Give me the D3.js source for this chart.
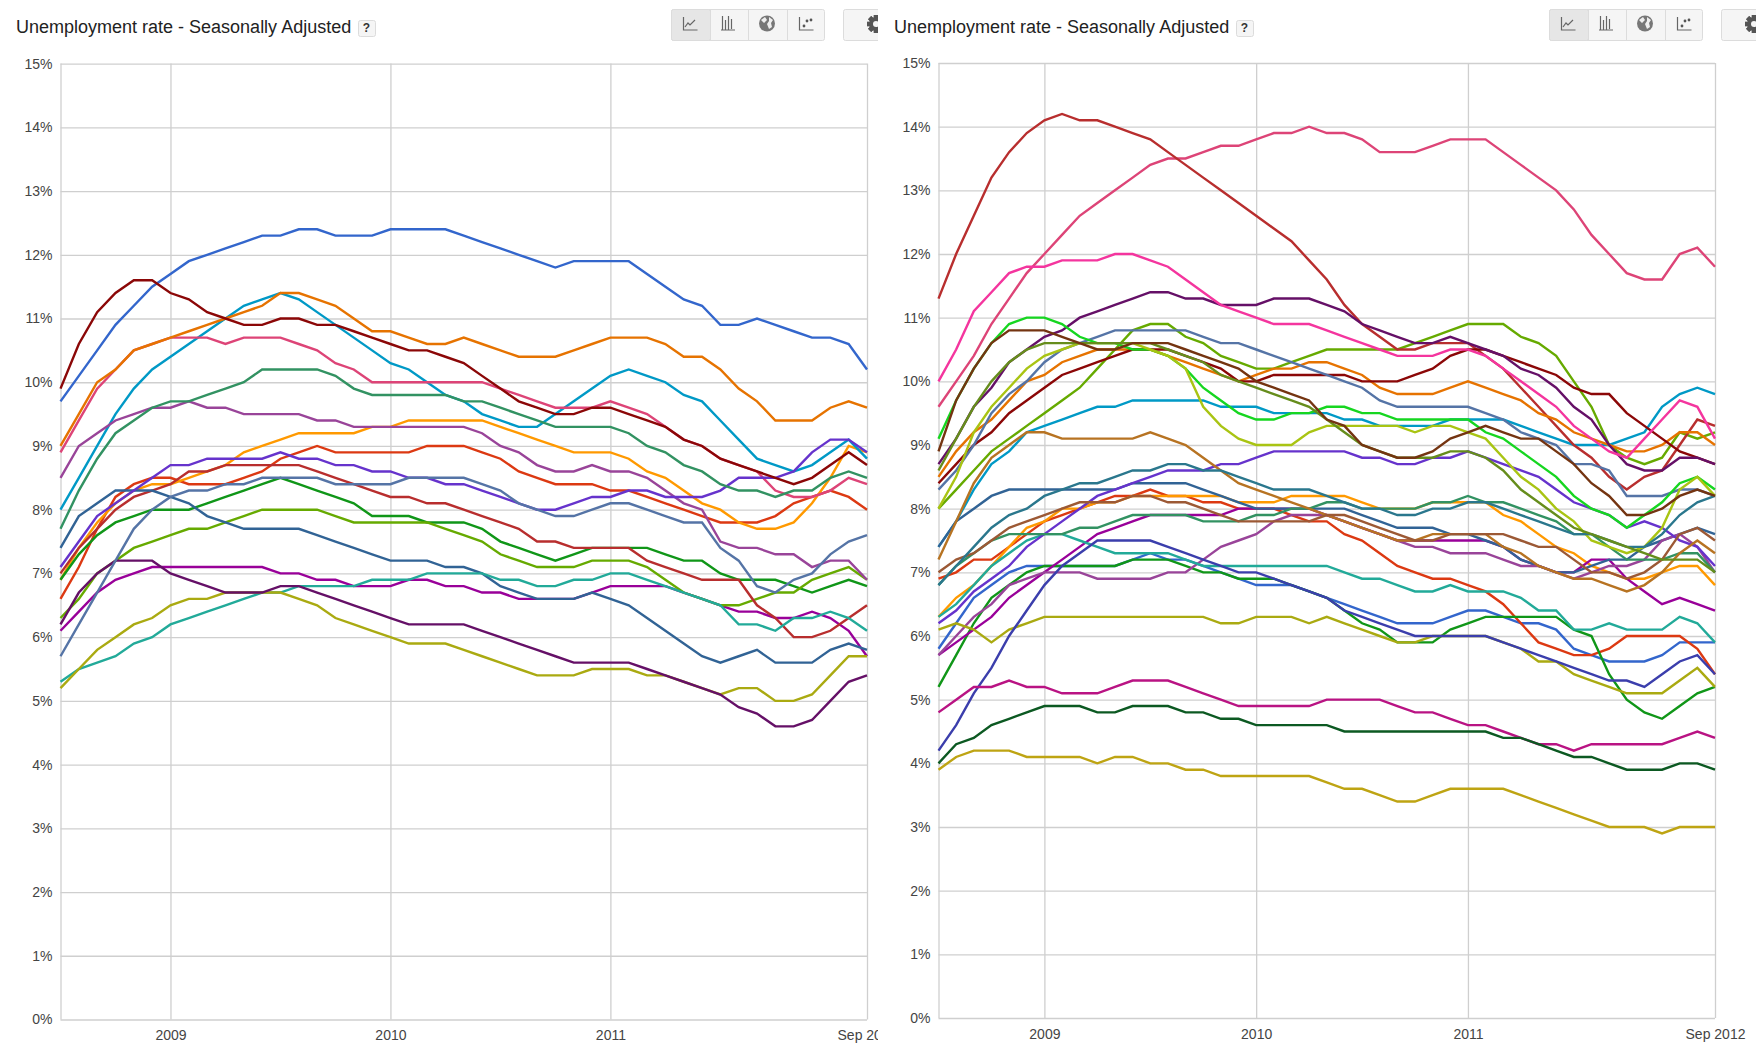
<!DOCTYPE html>
<html>
<head>
<meta charset="utf-8">
<title>Unemployment rate - Seasonally Adjusted</title>
<script src="https://d3js.org/d3.v7.min.js"></script>
<style>
  html, body { margin: 0; padding: 0; background: #fff; }
  svg { display: block; }
  text { font-family: "Liberation Sans", Arial, sans-serif; }
</style>
</head>
<body>
<div id="container"></div>
<script>
/* DATA - one value per month, 45 months */
const titleText = "Unemployment rate - Seasonally Adjusted";
const yTicks = [0, 1, 2, 3, 4, 5, 6, 7, 8, 9, 10, 11, 12, 13, 14, 15];
const xTickMonths = [0, 6, 18, 30, 44];
const xTickLabels = ["", "2009", "2010", "2011", "Sep 2012"];
const seriesColors = ["#3366cc", "#dc3912", "#ff9900", "#109618", "#990099", "#0099c6", "#dd4477", "#66aa00", "#b82e2e", "#316395", "#994499", "#22aa99", "#aaaa11", "#6633cc", "#e67300", "#8b0707", "#651067", "#329262", "#5574a6", "#3b3eac", "#b77322", "#16d620", "#b91383", "#f4359e", "#9c5935", "#a9c413", "#2a778d", "#668d1c", "#bea413", "#0c5922", "#743411"];

// LEFT CHART
const leftBlue = [9.7,10.1,10.5,10.9,11.2,11.5,11.7,11.9,12.0,12.1,12.2,12.3,12.3,12.4,12.4,12.3,12.3,12.3,12.4,12.4,12.4,12.4,12.3,12.2,12.1,12.0,11.9,11.8,11.9,11.9,11.9,11.9,11.7,11.5,11.3,11.2,10.9,10.9,11.0,10.9,10.8,10.7,10.7,10.6,10.2];
const leftRed = [6.6,7.1,7.7,8.2,8.4,8.5,8.5,8.4,8.4,8.4,8.5,8.6,8.8,8.9,9.0,8.9,8.9,8.9,8.9,8.9,9.0,9.0,9.0,8.9,8.8,8.6,8.5,8.4,8.4,8.4,8.3,8.3,8.2,8.1,8.0,7.9,7.8,7.8,7.8,7.9,8.1,8.2,8.3,8.2,8.0];
const leftOrange = [6.9,7.4,7.8,8.1,8.3,8.4,8.4,8.5,8.6,8.7,8.9,9.0,9.1,9.2,9.2,9.2,9.2,9.3,9.3,9.4,9.4,9.4,9.4,9.4,9.3,9.2,9.1,9.0,8.9,8.9,8.9,8.8,8.6,8.5,8.3,8.1,8.0,7.8,7.7,7.7,7.8,8.1,8.5,9.0,8.9];
const leftGreen = [6.9,7.3,7.6,7.8,7.9,8.0,8.0,8.0,8.1,8.2,8.3,8.4,8.5,8.4,8.3,8.2,8.1,7.9,7.9,7.9,7.8,7.8,7.8,7.7,7.5,7.4,7.3,7.2,7.3,7.4,7.4,7.4,7.4,7.3,7.2,7.2,7.0,6.9,6.9,6.9,6.8,6.7,6.8,6.9,6.8];
const leftMagenta = [6.1,6.4,6.7,6.9,7.0,7.1,7.1,7.1,7.1,7.1,7.1,7.1,7.0,7.0,6.9,6.9,6.8,6.8,6.8,6.9,6.9,6.8,6.8,6.7,6.7,6.6,6.6,6.6,6.6,6.7,6.8,6.8,6.8,6.8,6.7,6.6,6.5,6.4,6.4,6.3,6.3,6.4,6.3,6.1,5.7];
const leftCyan = [8.0,8.5,9.0,9.5,9.9,10.2,10.4,10.6,10.8,11.0,11.2,11.3,11.4,11.3,11.1,10.9,10.7,10.5,10.3,10.2,10.0,9.8,9.7,9.5,9.4,9.3,9.3,9.5,9.7,9.9,10.1,10.2,10.1,10.0,9.8,9.7,9.4,9.1,8.8,8.7,8.6,8.7,8.9,9.1,8.8];
const leftPink = [8.9,9.4,9.9,10.2,10.5,10.6,10.7,10.7,10.7,10.6,10.7,10.7,10.7,10.6,10.5,10.3,10.2,10.0,10.0,10.0,10.0,10.0,10.0,10.0,9.9,9.8,9.7,9.6,9.6,9.6,9.7,9.6,9.5,9.3,9.1,9.0,8.8,8.7,8.6,8.3,8.2,8.2,8.3,8.5,8.4];
const leftLime = [6.3,6.6,7.0,7.2,7.4,7.5,7.6,7.7,7.7,7.8,7.9,8.0,8.0,8.0,8.0,7.9,7.8,7.8,7.8,7.8,7.8,7.7,7.6,7.5,7.3,7.2,7.1,7.1,7.1,7.2,7.2,7.2,7.1,6.9,6.7,6.6,6.5,6.5,6.6,6.7,6.7,6.9,7.0,7.1,6.9];
const leftBrick = [7.0,7.4,7.7,8.0,8.2,8.3,8.4,8.6,8.6,8.7,8.7,8.7,8.7,8.7,8.6,8.5,8.4,8.3,8.2,8.2,8.1,8.1,8.0,7.9,7.8,7.7,7.5,7.5,7.4,7.4,7.4,7.4,7.2,7.1,7.0,6.9,6.9,6.9,6.5,6.3,6.0,6.0,6.1,6.3,6.5];
const leftSteel = [7.4,7.9,8.1,8.3,8.3,8.3,8.2,8.1,7.9,7.8,7.7,7.7,7.7,7.7,7.6,7.5,7.4,7.3,7.2,7.2,7.2,7.1,7.1,7.0,6.8,6.7,6.6,6.6,6.6,6.7,6.6,6.5,6.3,6.1,5.9,5.7,5.6,5.7,5.8,5.6,5.6,5.6,5.8,5.9,5.8];
const leftMauve = [8.5,9.0,9.2,9.4,9.5,9.6,9.6,9.7,9.6,9.6,9.5,9.5,9.5,9.5,9.4,9.4,9.3,9.3,9.3,9.3,9.3,9.3,9.3,9.2,9.0,8.9,8.7,8.6,8.6,8.7,8.6,8.6,8.5,8.3,8.1,8.0,7.5,7.4,7.4,7.3,7.3,7.1,7.2,7.2,6.9];
const leftTeal = [5.3,5.5,5.6,5.7,5.9,6.0,6.2,6.3,6.4,6.5,6.6,6.7,6.7,6.8,6.8,6.8,6.8,6.9,6.9,6.9,7.0,7.0,7.0,7.0,6.9,6.9,6.8,6.8,6.9,6.9,7.0,7.0,6.9,6.8,6.7,6.6,6.5,6.2,6.2,6.1,6.3,6.3,6.4,6.3,6.1];
const leftOlive = [5.2,5.5,5.8,6.0,6.2,6.3,6.5,6.6,6.6,6.7,6.7,6.7,6.7,6.6,6.5,6.3,6.2,6.1,6.0,5.9,5.9,5.9,5.8,5.7,5.6,5.5,5.4,5.4,5.4,5.5,5.5,5.5,5.4,5.4,5.3,5.2,5.1,5.2,5.2,5.0,5.0,5.1,5.4,5.7,5.7];
const leftViolet = [7.1,7.5,7.9,8.1,8.3,8.5,8.7,8.7,8.8,8.8,8.8,8.8,8.9,8.8,8.8,8.7,8.7,8.6,8.6,8.5,8.5,8.4,8.4,8.3,8.2,8.1,8.0,8.0,8.1,8.2,8.2,8.3,8.3,8.2,8.2,8.2,8.3,8.5,8.5,8.5,8.6,8.9,9.1,9.1,8.9];
const leftAmber = [9.0,9.5,10.0,10.2,10.5,10.6,10.7,10.8,10.9,11.0,11.1,11.2,11.4,11.4,11.3,11.2,11.0,10.8,10.8,10.7,10.6,10.6,10.7,10.6,10.5,10.4,10.4,10.4,10.5,10.6,10.7,10.7,10.7,10.6,10.4,10.4,10.2,9.9,9.7,9.4,9.4,9.4,9.6,9.7,9.6];
const leftDarkRed = [9.9,10.6,11.1,11.4,11.6,11.6,11.4,11.3,11.1,11.0,10.9,10.9,11.0,11.0,10.9,10.9,10.8,10.7,10.6,10.5,10.5,10.4,10.3,10.1,9.9,9.7,9.6,9.5,9.5,9.6,9.6,9.5,9.4,9.3,9.1,9.0,8.8,8.7,8.6,8.5,8.4,8.5,8.7,8.9,8.7];
const leftPlum = [6.2,6.7,7.0,7.2,7.2,7.2,7.0,6.9,6.8,6.7,6.7,6.7,6.8,6.8,6.7,6.6,6.5,6.4,6.3,6.2,6.2,6.2,6.2,6.1,6.0,5.9,5.8,5.7,5.6,5.6,5.6,5.6,5.5,5.4,5.3,5.2,5.1,4.9,4.8,4.6,4.6,4.7,5.0,5.3,5.4];
const leftSea = [7.7,8.3,8.8,9.2,9.4,9.6,9.7,9.7,9.8,9.9,10.0,10.2,10.2,10.2,10.2,10.1,9.9,9.8,9.8,9.8,9.8,9.8,9.7,9.7,9.6,9.5,9.4,9.3,9.3,9.3,9.3,9.2,9.0,8.9,8.7,8.6,8.4,8.3,8.3,8.2,8.3,8.3,8.5,8.6,8.5];
const leftSlate = [5.7,6.2,6.7,7.2,7.7,8.0,8.2,8.3,8.3,8.4,8.4,8.5,8.5,8.5,8.5,8.4,8.4,8.4,8.4,8.5,8.5,8.5,8.5,8.4,8.3,8.1,8.0,7.9,7.9,8.0,8.1,8.1,8.0,7.9,7.8,7.8,7.4,7.2,6.8,6.7,6.9,7.0,7.3,7.5,7.6];

// RIGHT CHART
const rightBlue = [5.8,6.2,6.6,6.8,7.0,7.1,7.1,7.1,7.1,7.1,7.1,7.2,7.3,7.2,7.2,7.1,7.0,6.9,6.8,6.8,6.8,6.7,6.6,6.5,6.4,6.3,6.2,6.2,6.2,6.3,6.4,6.4,6.3,6.2,6.2,6.1,5.8,5.7,5.6,5.6,5.6,5.7,5.9,5.9,5.9];
const rightRed = [6.9,7.0,7.2,7.2,7.4,7.6,7.8,7.9,8.0,8.1,8.2,8.2,8.3,8.2,8.2,8.1,8.1,8.0,8.0,8.0,7.9,7.8,7.8,7.6,7.5,7.3,7.1,7.0,6.9,6.9,6.8,6.7,6.5,6.2,5.9,5.8,5.7,5.7,5.8,6.0,6.0,6.0,6.0,5.8,5.4];
const rightOrange = [6.3,6.6,6.8,7.1,7.4,7.7,7.8,8.0,8.0,8.1,8.1,8.2,8.2,8.2,8.2,8.2,8.2,8.1,8.1,8.1,8.2,8.2,8.2,8.2,8.1,8.0,8.0,8.0,8.1,8.1,8.1,8.1,7.9,7.8,7.6,7.4,7.3,7.1,7.0,6.9,6.9,7.0,7.1,7.1,6.8];
const rightGreen = [5.2,5.7,6.2,6.6,6.8,7.0,7.1,7.1,7.1,7.1,7.1,7.2,7.2,7.2,7.1,7.0,7.0,6.9,6.9,6.9,6.8,6.7,6.6,6.4,6.2,6.1,5.9,5.9,5.9,6.1,6.2,6.3,6.3,6.3,6.3,6.3,6.1,6.0,5.4,5.0,4.8,4.7,4.9,5.1,5.2];
const rightMagenta = [5.7,5.9,6.1,6.3,6.6,6.8,7.0,7.2,7.4,7.6,7.7,7.8,7.9,7.9,7.9,7.9,7.9,8.0,8.0,8.0,8.0,8.0,7.9,7.8,7.7,7.6,7.5,7.5,7.5,7.5,7.5,7.5,7.4,7.2,7.1,7.0,7.0,7.2,7.2,6.9,6.7,6.5,6.6,6.5,6.4];
const rightCyan = [7.4,7.8,8.3,8.7,8.9,9.2,9.3,9.4,9.5,9.6,9.6,9.7,9.7,9.7,9.7,9.7,9.6,9.6,9.6,9.5,9.5,9.5,9.5,9.4,9.4,9.3,9.3,9.3,9.3,9.4,9.4,9.4,9.4,9.3,9.2,9.1,9.0,9.0,9.0,9.1,9.2,9.6,9.8,9.9,9.8];
const rightPink = [9.6,10.0,10.4,10.9,11.3,11.7,12.0,12.3,12.6,12.8,13.0,13.2,13.4,13.5,13.5,13.6,13.7,13.7,13.8,13.9,13.9,14.0,13.9,13.9,13.8,13.6,13.6,13.6,13.7,13.8,13.8,13.8,13.6,13.4,13.2,13.0,12.7,12.3,12.0,11.7,11.6,11.6,12.0,12.1,11.8];
const rightLime = [8.0,8.3,8.6,8.9,9.1,9.3,9.5,9.7,9.9,10.2,10.5,10.8,10.9,10.9,10.7,10.6,10.4,10.3,10.2,10.2,10.3,10.4,10.5,10.5,10.5,10.5,10.5,10.6,10.7,10.8,10.9,10.9,10.9,10.7,10.6,10.4,10.0,9.6,9.0,8.8,8.7,8.8,9.2,9.1,9.2];
const rightBrick = [11.3,12.0,12.6,13.2,13.6,13.9,14.1,14.2,14.1,14.1,14.0,13.9,13.8,13.6,13.4,13.2,13.0,12.8,12.6,12.4,12.2,11.9,11.6,11.2,10.9,10.7,10.5,10.5,10.6,10.6,10.6,10.4,10.2,9.9,9.6,9.3,9.0,8.8,8.5,8.3,8.5,8.6,9.0,9.4,9.3];
const rightSteel = [7.4,7.8,8.0,8.2,8.3,8.3,8.3,8.3,8.3,8.3,8.3,8.4,8.4,8.4,8.4,8.3,8.2,8.1,8.0,8.0,8.0,8.0,8.0,8.0,7.9,7.8,7.7,7.7,7.7,7.6,7.6,7.5,7.4,7.2,7.1,7.0,7.0,7.1,7.2,7.2,7.4,7.5,7.6,7.7,7.6];
const rightMauve = [5.7,6.0,6.3,6.5,6.8,6.9,7.0,7.0,7.0,6.9,6.9,6.9,6.9,7.0,7.0,7.2,7.4,7.5,7.6,7.8,7.9,7.9,7.9,7.8,7.7,7.6,7.5,7.4,7.4,7.3,7.3,7.3,7.2,7.1,7.1,7.0,6.9,7.0,7.1,7.1,7.2,7.5,7.6,7.4,7.0];
const rightTeal = [6.3,6.5,6.8,7.1,7.3,7.5,7.6,7.6,7.5,7.4,7.3,7.3,7.3,7.3,7.2,7.1,7.1,7.1,7.1,7.1,7.1,7.1,7.1,7.0,6.9,6.9,6.8,6.7,6.7,6.8,6.7,6.7,6.7,6.6,6.4,6.4,6.1,6.1,6.2,6.1,6.1,6.1,6.3,6.2,5.9];
const rightOlive = [6.1,6.2,6.1,5.9,6.1,6.2,6.3,6.3,6.3,6.3,6.3,6.3,6.3,6.3,6.3,6.3,6.2,6.2,6.3,6.3,6.3,6.2,6.3,6.2,6.1,6.0,5.9,5.9,6.0,6.0,6.0,6.0,5.9,5.8,5.6,5.6,5.4,5.3,5.2,5.1,5.1,5.1,5.3,5.5,5.2];
const rightViolet = [6.2,6.4,6.7,6.9,7.1,7.4,7.6,7.8,8.0,8.2,8.3,8.4,8.5,8.6,8.6,8.6,8.7,8.7,8.8,8.9,8.9,8.9,8.9,8.9,8.8,8.8,8.7,8.7,8.8,8.8,8.9,8.8,8.7,8.6,8.5,8.3,8.1,8.0,7.9,7.7,7.8,7.7,7.5,7.4,7.1];
const rightAmber = [8.5,8.9,9.2,9.4,9.7,10.0,10.1,10.3,10.4,10.5,10.5,10.5,10.5,10.4,10.3,10.2,10.1,10.0,10.1,10.2,10.2,10.3,10.3,10.2,10.1,9.9,9.8,9.8,9.8,9.9,10.0,9.9,9.8,9.7,9.5,9.4,9.2,9.1,9.0,8.9,8.9,9.0,9.2,9.2,9.0];
const rightDarkRed = [8.4,8.7,9.0,9.2,9.5,9.7,9.9,10.1,10.2,10.3,10.4,10.5,10.5,10.5,10.4,10.3,10.2,10.0,10.0,10.1,10.1,10.1,10.1,10.1,10.0,10.0,10.0,10.1,10.2,10.4,10.5,10.5,10.4,10.3,10.2,10.1,9.9,9.8,9.8,9.5,9.3,9.1,8.9,8.8,8.7];
const rightPlum = [8.7,9.1,9.6,9.9,10.3,10.5,10.7,10.8,11.0,11.1,11.2,11.3,11.4,11.4,11.3,11.3,11.2,11.2,11.2,11.3,11.3,11.3,11.2,11.1,10.9,10.8,10.7,10.6,10.6,10.7,10.6,10.5,10.4,10.2,10.1,9.9,9.6,9.4,9.0,8.7,8.6,8.6,8.8,8.8,8.7];
const rightSea = [6.8,7.1,7.3,7.5,7.6,7.6,7.6,7.6,7.7,7.7,7.8,7.9,7.9,7.9,7.9,7.8,7.8,7.8,7.9,7.9,8.0,8.0,8.1,8.1,8.0,8.0,8.0,8.0,8.1,8.1,8.2,8.1,8.1,8.0,7.9,7.8,7.6,7.6,7.4,7.2,7.2,7.2,7.3,7.3,7.0];
const rightSlate = [8.3,8.6,9.0,9.5,9.8,10.0,10.3,10.5,10.6,10.7,10.8,10.8,10.8,10.8,10.8,10.7,10.6,10.6,10.5,10.4,10.3,10.2,10.1,10.0,9.9,9.7,9.6,9.6,9.6,9.6,9.6,9.5,9.4,9.2,9.1,9.0,8.7,8.7,8.6,8.2,8.2,8.2,8.3,8.3,8.2];
const rightIndigo = [4.2,4.6,5.1,5.5,6.0,6.4,6.8,7.1,7.3,7.5,7.5,7.5,7.5,7.4,7.3,7.2,7.1,7.0,7.0,6.9,6.8,6.7,6.6,6.4,6.3,6.2,6.1,6.0,6.0,6.0,6.0,6.0,5.9,5.8,5.7,5.6,5.5,5.4,5.3,5.3,5.2,5.4,5.6,5.7,5.4];
const rightOchre = [7.2,7.8,8.4,8.8,9.0,9.2,9.2,9.1,9.1,9.1,9.1,9.1,9.2,9.1,9.0,8.8,8.6,8.4,8.3,8.2,8.1,8.0,7.9,7.8,7.7,7.6,7.5,7.5,7.6,7.6,7.6,7.6,7.4,7.3,7.1,7.0,6.9,6.9,6.8,6.7,6.8,7.0,7.3,7.5,7.3];
const rightBright = [9.1,9.7,10.2,10.6,10.9,11.0,11.0,10.9,10.7,10.6,10.6,10.5,10.5,10.4,10.2,9.9,9.7,9.5,9.4,9.4,9.5,9.5,9.6,9.6,9.5,9.5,9.4,9.4,9.4,9.4,9.4,9.2,9.1,8.9,8.7,8.5,8.2,8.0,7.9,7.7,7.9,8.1,8.4,8.5,8.3];
const rightFuchsia = [4.8,5.0,5.2,5.2,5.3,5.2,5.2,5.1,5.1,5.1,5.2,5.3,5.3,5.3,5.2,5.1,5.0,4.9,4.9,4.9,4.9,4.9,5.0,5.0,5.0,5.0,4.9,4.8,4.8,4.7,4.6,4.6,4.5,4.4,4.3,4.3,4.2,4.3,4.3,4.3,4.3,4.3,4.4,4.5,4.4];
const rightHotPink = [10.0,10.5,11.1,11.4,11.7,11.8,11.8,11.9,11.9,11.9,12.0,12.0,11.9,11.8,11.6,11.4,11.2,11.1,11.0,10.9,10.9,10.9,10.8,10.7,10.6,10.5,10.4,10.4,10.4,10.5,10.5,10.4,10.2,10.0,9.8,9.6,9.3,9.1,8.9,8.8,9.1,9.4,9.7,9.6,9.1];
const rightBrown = [7.0,7.2,7.3,7.5,7.7,7.8,7.9,8.0,8.1,8.1,8.1,8.2,8.2,8.1,8.1,8.0,7.9,7.8,7.8,7.8,7.8,7.8,7.9,7.9,7.8,7.7,7.6,7.5,7.5,7.6,7.6,7.6,7.6,7.5,7.4,7.4,7.2,7.0,7.0,6.9,7.0,7.2,7.6,7.7,7.5];
const rightChartreuse = [8.0,8.5,9.2,9.6,9.9,10.2,10.4,10.5,10.6,10.6,10.6,10.6,10.5,10.4,10.2,9.6,9.3,9.1,9.0,9.0,9.0,9.2,9.3,9.3,9.3,9.3,9.3,9.2,9.3,9.3,9.2,9.1,8.8,8.5,8.3,8.0,7.8,7.5,7.4,7.3,7.4,7.7,8.3,8.5,8.2];
const rightOcean = [6.8,7.1,7.4,7.7,7.9,8.0,8.2,8.3,8.4,8.4,8.5,8.6,8.6,8.7,8.7,8.6,8.6,8.5,8.4,8.3,8.3,8.3,8.2,8.1,8.0,8.0,7.9,7.9,8.0,8.0,8.1,8.1,8.0,7.9,7.8,7.7,7.6,7.6,7.5,7.4,7.4,7.6,7.9,8.1,8.2];
const rightMoss = [8.6,9.1,9.6,10.0,10.3,10.5,10.6,10.6,10.6,10.6,10.6,10.6,10.6,10.5,10.4,10.3,10.1,10.0,9.9,9.8,9.7,9.6,9.4,9.2,9.0,8.9,8.8,8.8,8.8,8.9,8.9,8.8,8.6,8.3,8.1,7.9,7.7,7.6,7.5,7.4,7.3,7.2,7.2,7.2,7.0];
const rightGold = [3.9,4.1,4.2,4.2,4.2,4.1,4.1,4.1,4.1,4.0,4.1,4.1,4.0,4.0,3.9,3.9,3.8,3.8,3.8,3.8,3.8,3.8,3.7,3.6,3.6,3.5,3.4,3.4,3.5,3.6,3.6,3.6,3.6,3.5,3.4,3.3,3.2,3.1,3.0,3.0,3.0,2.9,3.0,3.0,3.0];
const rightForest = [4.0,4.3,4.4,4.6,4.7,4.8,4.9,4.9,4.9,4.8,4.8,4.9,4.9,4.9,4.8,4.8,4.7,4.7,4.6,4.6,4.6,4.6,4.6,4.5,4.5,4.5,4.5,4.5,4.5,4.5,4.5,4.5,4.4,4.4,4.3,4.2,4.1,4.1,4.0,3.9,3.9,3.9,4.0,4.0,3.9];
const rightBark = [8.9,9.7,10.2,10.6,10.8,10.8,10.8,10.7,10.6,10.5,10.5,10.6,10.6,10.6,10.5,10.4,10.3,10.2,10.0,9.9,9.8,9.7,9.4,9.3,9.0,8.9,8.8,8.8,8.9,9.1,9.2,9.3,9.2,9.1,9.1,8.9,8.7,8.4,8.2,7.9,7.9,8.0,8.2,8.3,8.2];

const leftSeries = [leftBlue, leftRed, leftOrange, leftGreen, leftMagenta, leftCyan, leftPink, leftLime, leftBrick, leftSteel, leftMauve, leftTeal, leftOlive, leftViolet, leftAmber, leftDarkRed, leftPlum, leftSea, leftSlate];
const rightSeries = [rightBlue, rightRed, rightOrange, rightGreen, rightMagenta, rightCyan, rightPink, rightLime, rightBrick, rightSteel, rightMauve, rightTeal, rightOlive, rightViolet, rightAmber, rightDarkRed, rightPlum, rightSea, rightSlate, rightIndigo, rightOchre, rightBright, rightFuchsia, rightHotPink, rightBrown, rightChartreuse, rightOcean, rightMoss, rightGold, rightForest, rightBark];

/* CONSTANTS AND GLOBALS */
const width = 1756,
  height = 1050,
  panelWidth = 878;

const svg = d3.select("#container")
  .append("svg")
  .attr("width", width)
  .attr("height", height);

// DRAW ONE PANEL: TITLE BAR, AXES AND LINES
function drawPanel(id, series, offsetX, offsetY, plot) {
  svg.append("clipPath")
    .attr("id", id)
    .append("rect")
    .attr("width", panelWidth)
    .attr("height", height);

  const panel = svg.append("g")
    .attr("transform", `translate(${offsetX}, ${offsetY})`)
    .attr("clip-path", `url(#${id})`);

  const xScale = d3.scaleLinear()
    .domain([0, 44])
    .range([plot.left, plot.right]);

  const yScale = d3.scaleLinear()
    .domain([0, 15])
    .range([plot.bottom, plot.top]);

  // Y AXIS WITH GRID
  panel.append("g")
    .attr("class", "y-axis")
    .attr("transform", `translate(${plot.left}, 0)`)
    .call(d3.axisLeft(yScale)
      .tickValues(yTicks)
      .tickFormat(d => d + "%")
      .tickSize(-(plot.right - plot.left))
      .tickPadding(8));

  // X AXIS WITH GRID
  panel.append("g")
    .attr("class", "x-axis")
    .attr("transform", `translate(0, ${plot.bottom})`)
    .call(d3.axisBottom(xScale)
      .tickValues(xTickMonths)
      .tickFormat((d, i) => xTickLabels[i])
      .tickSize(-(plot.bottom - plot.top))
      .tickPadding(11));

  panel.selectAll(".domain").remove();
  panel.selectAll(".tick line")
    .attr("stroke", "#cfcfcf")
    .attr("stroke-width", 1.3);
  panel.selectAll(".tick text")
    .attr("fill", "#444")
    .style("font-size", "14px")
    .style("font-family", "'Liberation Sans', Arial, sans-serif");

  // LINES
  const lineGen = d3.line()
    .x((d, i) => xScale(i))
    .y(d => yScale(d));

  panel.selectAll("path.series")
    .data(series)
    .join("path")
    .attr("class", "series")
    .attr("d", lineGen)
    .attr("fill", "none")
    .attr("stroke", (d, i) => seriesColors[i])
    .attr("stroke-width", 2.4);

  // TITLE AND HELP BUTTON
  panel.append("text")
    .attr("x", 16)
    .attr("y", 33)
    .attr("fill", "#222")
    .style("font-size", "18px")
    .text(titleText);

  drawButton(panel, 358, 20, 17, 16, "#f5f5f5", 2);
  panel.append("text")
    .attr("x", 366.5)
    .attr("y", 32)
    .attr("text-anchor", "middle")
    .attr("fill", "#333")
    .style("font-size", "12px")
    .style("font-weight", "bold")
    .text("?");

  drawToolbar(panel);
}

function drawButton(g, x, y, w, h, fill, r) {
  g.append("rect")
    .attr("x", x + 0.5)
    .attr("y", y + 0.5)
    .attr("width", w)
    .attr("height", h)
    .attr("rx", r)
    .attr("fill", fill)
    .attr("stroke", "#dcdcdc");
}

// THE CHART TYPE BUTTONS AND THE GEAR
function drawToolbar(g) {
  const stroke = "#666";
  drawButton(g, 671, 9, 153, 31, "#f5f5f5", 2);
  drawButton(g, 671, 9, 39, 31, "#e6e6e6", 2);
  drawButton(g, 710, 9, 38, 31, "#f5f5f5", 0);
  drawButton(g, 748, 9, 39, 31, "#f5f5f5", 0);
  drawButton(g, 843, 9, 60, 31, "#f5f5f5", 2);

  // line icon
  g.append("path")
    .attr("d", "M683.5 17v13h14M685 27l3-4 2 2 5-5")
    .attr("fill", "none").attr("stroke", stroke).attr("stroke-width", 1.2);
  // bar icon
  g.append("path")
    .attr("d", "M722.5 16v14M725.5 20v10M728.5 16v14M731.5 19v10M721 30h14")
    .attr("fill", "none").attr("stroke", stroke).attr("stroke-width", 1.2);
  // globe icon
  g.append("circle")
    .attr("cx", 767).attr("cy", 23.5).attr("r", 8)
    .attr("fill", "#777");
  g.append("path")
    .attr("d", "M761 20l4-3 2 3-3 3zM769 17l4 3-2 3 1 4-3 2-2-5 2-3z")
    .attr("fill", "#eee");
  // scatter icon
  g.append("path")
    .attr("d", "M799.5 17v13h14")
    .attr("fill", "none").attr("stroke", stroke).attr("stroke-width", 1.2);
  g.selectAll("circle.dot")
    .data([[804, 26], [807, 21], [811, 20]])
    .join("circle")
    .attr("class", "dot")
    .attr("cx", d => d[0]).attr("cy", d => d[1]).attr("r", 1.4)
    .attr("fill", "#555");
  // gear icon
  const gear = g.append("g").attr("transform", "translate(876, 24)");
  gear.selectAll("rect")
    .data(d3.range(8))
    .join("rect")
    .attr("x", -2.2).attr("y", -9)
    .attr("width", 4.4).attr("height", 18)
    .attr("fill", "#555")
    .attr("transform", d => `rotate(${d * 45})`);
  gear.append("circle").attr("r", 7).attr("fill", "#555");
  gear.append("circle").attr("r", 3).attr("fill", "#f5f5f5");
}

drawPanel("clip-left", leftSeries, 0, 0, { left: 60.5, right: 867, top: 63.6, bottom: 1019.5 });
drawPanel("clip-right", rightSeries, 878, 0, { left: 60.5, right: 837, top: 63, bottom: 1018 });
</script>
</body>
</html>
